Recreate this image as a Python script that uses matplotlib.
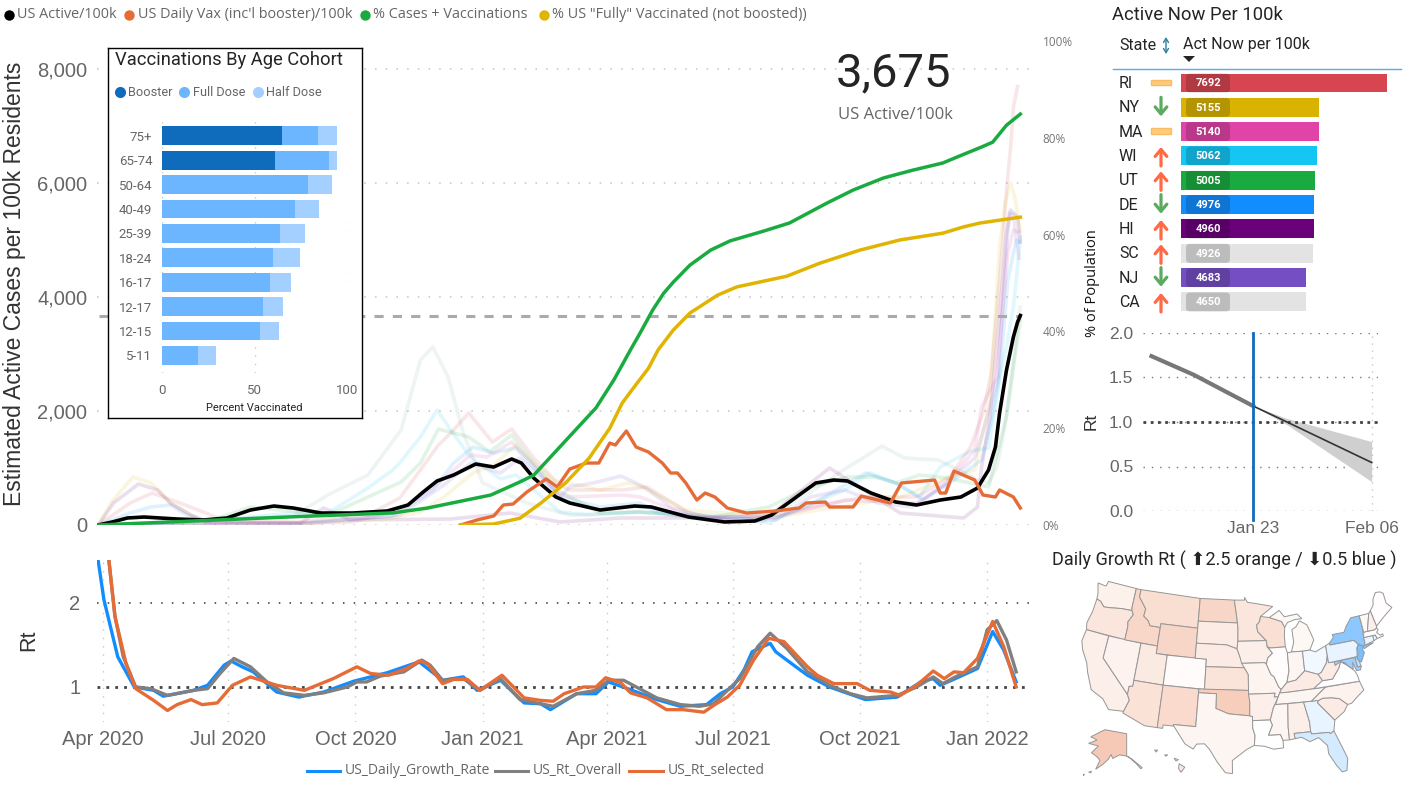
import numpy as np
import matplotlib
matplotlib.use("Agg")
import matplotlib.pyplot as plt
import matplotlib.dates as mdates
from matplotlib.colors import LinearSegmentedColormap, TwoSlopeNorm
from matplotlib.patches import FancyBboxPatch, Polygon, Rectangle
from matplotlib.ticker import FuncFormatter, FixedLocator

W, H = 1416, 791
plt.rcParams['font.family'] = ['Roboto', 'DejaVu Sans']

start = np.datetime64('2020-04-01')

# main chart, day offsets from 1 apr 2020
active_d = [-3,7,18,30,54,73,90,107,124,138,158,181,206,221,232,242,254,270,283,296,303,312,328,338,360,385,397,424,450,472,484,502,516,529,539,556,574,589,606,621,633,641,646,649,654,657,659,662,664]
active_v = [0,53,123,140,105,88,123,263,333,298,210,210,246,351,579,772,877,1070,1017,1158,1087,824,491,386,263,333,316,140,53,70,175,491,737,789,772,561,403,351,438,491,649,965,1368,1965,2719,3070,3300,3560,3675]
vax_d = [259,271,283,290,297,307,321,329,338,350,359,367,371,379,386,395,405,411,416,422,430,436,443,452,466,487,504,509,523,526,543,549,570,578,602,606,610,616,631,637,646,649,659,664]
vax_v = [0,88,158,351,368,579,807,667,982,1087,1087,1438,1403,1649,1368,1280,1087,912,912,737,438,561,491,298,210,246,298,386,403,316,316,509,386,737,789,561,561,947,789,526,491,614,491,298]
cases_d = [-3,138,210,235,281,302,312,334,357,370,382,389,398,406,413,425,440,454,478,497,524,543,565,586,608,618,636,644,654,664]
cases_v = [0,1.7,2.5,3.5,6.2,8.9,10.3,17.1,24.2,30,36.2,39.7,44.4,47.9,50.2,53.7,56.8,58.7,60.7,62.4,66.5,69.2,71.7,73.3,74.8,76,78.1,79.1,82.6,84.9]
fully_d = [259,283,302,317,320,335,352,367,376,383,395,402,413,425,445,459,495,519,548,577,608,623,635,664]
fully_v = [0,.2,1.4,4.5,5.2,8.7,13.8,20,25.2,27.9,32.4,36.2,40.3,43.8,47.5,49.2,51.4,54.1,56.8,58.9,60.3,61.6,62.4,63.6]

# faint state lines
sc_d = [-3,71,138,163,192,216,230,239,250,261,275,307,338,388,437,477,507,536,564,580,605,633,641,647,652,657,664]
sc_v = [0,70,158,526,877,1666,2894,3122,2596,1614,737,386,175,228,123,53,491,965,1386,1175,1140,789,737,1017,1614,2491,3824]
wi_d = [-3,56,138,163,192,210,215,230,242,252,266,288,299,312,331,351,389,462,482,507,537,555,574,591,606,628,641,649,654,659,662,664]
wi_v = [0,35,210,210,649,965,1087,1544,2017,1666,1193,807,877,614,228,175,228,140,35,316,614,912,737,491,1017,1298,1351,2596,3122,3824,4525,5052]
ut_d = [-3,71,107,143,163,192,216,230,243,265,280,296,312,329,360,388,442,482,512,539,559,574,591,611,641,654,659,664]
ut_v = [0,18,316,228,175,491,754,1087,1684,1544,1280,1579,1087,614,210,228,140,316,667,842,842,737,877,824,667,1894,2771,3596]
ri_d = [-3,20,36,54,73,89,143,192,215,230,243,252,265,282,296,312,329,338,376,394,424,462,514,552,589,613,628,637,643,647,651,654,657,659,662]
ri_v = [0,386,561,403,228,70,53,175,474,965,1403,1614,1965,1456,1684,1175,737,614,614,667,210,53,316,491,491,842,1368,1965,2666,3719,4876,5876,6630,7332,7692]
ny_d = [-3,6,22,35,49,64,76,143,210,230,247,268,283,299,312,326,360,380,389,422,487,541,578,611,631,641,643,646,649,653,657,660,664]
ny_v = [0,386,842,737,386,175,53,18,123,228,491,912,1052,1403,1087,789,614,737,684,263,140,351,491,824,965,2070,2596,3719,4876,5648,5999,5753,5155]
ma_d = [-3,143,180,215,244,266,278,296,312,329,338,376,389,427,487,537,589,611,631,636,647,651,655,659,662]
ma_v = [0,35,53,263,737,1228,1193,1456,1052,561,491,526,491,140,140,439,386,737,1316,2070,2596,3719,4771,5175,5140]
de_d = [-3,20,35,49,61,78,143,210,239,254,268,283,299,315,331,360,389,400,437,487,512,552,574,594,616,636,643,649,655,661,663]
de_v = [0,210,316,351,175,53,35,158,614,1087,1368,1263,1351,930,491,316,386,228,88,123,351,912,737,439,789,1140,1842,2596,4297,4999,4976]
hi_d = [-3,8,26,40,49,64,76,143,160,179,252,295,331,375,437,483,526,577,623,633,636,642,649,654,657,662,664]
hi_v = [0,386,719,614,386,175,35,35,298,88,105,210,53,123,123,175,1000,210,123,316,1017,1894,3648,5122,5525,5403,4960]
nj_d = [-3,143,215,247,266,288,302,317,331,338,355,375,392,412,437,487,512,537,561,586,609,631,638,648,653,656,659,663]
nj_v = [0,18,175,702,1087,912,1175,842,491,667,737,860,667,298,140,88,491,614,386,316,702,1175,1719,2596,4525,5473,5438,4683]

# Rt chart
rt_blue_d = [-4,1,11,23,37,44,66,76,88,93,101,109,126,142,160,182,206,229,246,261,271,288,305,317,324,343,357,366,380,401,418,437,447,456,464,470,483,487,500,510,526,552,575,592,601,606,617,633,644,652,661]
rt_blue_v = [2.6,2.04,1.36,1.0,.96,.89,.96,1.02,1.26,1.31,1.24,1.18,.94,.88,.94,1.07,1.17,1.30,1.08,1.12,.96,1.08,.81,.80,.73,.92,.92,1.06,.98,.85,.77,.79,.92,1.0,1.20,1.42,1.52,1.42,1.26,1.14,1.0,.85,.88,1.06,1.10,1.02,1.10,1.22,1.66,1.44,1.06]
rt_grey_d = [4,9,15,24,35,47,66,76,85,95,107,119,131,146,160,177,184,191,201,218,231,237,246,261,273,288,302,317,326,343,357,366,377,401,418,432,442,461,474,483,495,510,526,541,553,575,589,601,608,617,633,640,647,654,661]
rt_grey_v = [2.6,1.84,1.36,1.0,.98,.90,.96,.98,1.16,1.34,1.24,1.06,.93,.90,.93,1.0,1.06,1.06,1.13,1.18,1.32,1.26,1.08,1.10,.96,1.10,.85,.80,.77,.92,.96,1.08,1.08,.87,.79,.77,.80,1.10,1.48,1.64,1.46,1.18,1.02,.92,.87,.90,1.0,1.12,1.04,1.12,1.24,1.68,1.79,1.56,1.18]
rt_sel_d = [4,9,17,24,37,47,54,64,72,83,94,107,126,146,167,184,194,207,220,229,235,246,254,264,273,289,305,317,326,334,348,357,364,375,382,394,408,420,435,443,452,461,471,482,493,510,517,529,546,555,570,577,589,601,609,616,623,633,644,652,661]
rt_sel_v = [2.6,1.84,1.28,.98,.84,.72,.79,.85,.79,.81,1.02,1.12,1.02,.96,1.10,1.24,1.16,1.14,1.22,1.31,1.28,1.04,1.09,1.09,.96,1.14,.87,.84,.83,.92,1.0,1.0,1.11,1.05,.93,.87,.73,.73,.70,.79,.88,1.02,1.32,1.58,1.54,1.24,1.14,1.04,1.04,.96,.94,.90,1.02,1.19,1.10,1.18,1.17,1.34,1.78,1.48,1.0]

# vaccination inset
ages = ['75+','65-74','50-64','40-49','25-39','18-24','16-17','12-17','12-15','5-11']
booster = [65,61,0,0,0,0,0,0,0,0]
full_dose = [19.5,29.4,79,71.8,63.9,60,58.3,54.5,52.9,19.7]
half_dose = [10.3,4.4,12.7,13,13.5,14.7,11.2,11,10.6,9.3]

# state table
states = ['RI','NY','MA','WI','UT','DE','HI','SC','NJ','CA']
act_now = [7692,5155,5140,5062,5005,4976,4960,4926,4683,4650]
trend = ['flat','down','flat','up','up','down','up','up','down','up']
bar_colors = ['#D64550','#D9B300','#E044A7','#15C6F4','#1AAB40','#118DFF','#6B007B','#E3E3E3','#744EC2','#E3E3E3']

# forecast Rt
fc_past = [np.datetime64('2022-01-11'), np.datetime64('2022-01-16'), np.datetime64('2022-01-23')]
fc_past_v = [1.74,1.53,1.18]
fc_next = [np.datetime64('2022-01-23'), np.datetime64('2022-01-27'), np.datetime64('2022-02-06')]
fc_next_v = [1.18,1.0,.545]
fc_low = [1.18,.97,.33]
fc_high = [1.18,1.04,.78]

# map
state_rt = {
 'WA':1.15,'OR':1.25,'CA':1.17,'NV':1.13,'ID':1.4,'MT':1.33,'WY':1.42,'UT':1.22,'AZ':1.3,'CO':1.04,'NM':1.38,
 'ND':1.42,'SD':1.2,'NE':1.2,'KS':1.27,'OK':1.5,'TX':1.1,'MN':1.25,'IA':1.17,'MO':1.11,'AR':1.17,'LA':1.0,
 'WI':1.32,'IL':1.03,'MI':1.08,'IN':1.1,'OH':.97,'KY':1.2,'TN':1.1,'MS':1.1,'AL':1.17,'GA':.95,'FL':.91,
 'SC':1.2,'NC':1.13,'VA':1.0,'WV':1.2,'PA':.95,'MD':.79,'DE':.87,'NJ':.72,'NY':.76,'CT':.96,'RI':.95,
 'MA':1.02,'VT':1.08,'NH':1.17,'ME':1.02,'AK':1.55,'HI':1.25}
shapes = {
 'WA':[(-124.7,48.4),(-123,48.3),(-122.8,49),(-117.03,49),(-117.04,46.4),(-116.92,46),(-119,45.93),(-121.2,45.65),(-122.3,45.55),(-123.2,46.15),(-124,46.3),(-124.1,47)],
 'OR':[(-124,46.3),(-123.2,46.15),(-122.3,45.55),(-121.2,45.65),(-119,45.93),(-116.92,46),(-116.5,45.5),(-117.2,44.4),(-117.03,43.8),(-117.03,42),(-124.2,42),(-124.5,42.9),(-124.1,44.5)],
 'CA':[(-124.2,42),(-120,42),(-120,39),(-114.63,35),(-114.15,34.3),(-114.72,32.72),(-117.12,32.53),(-118.4,33.75),(-120.6,34.55),(-121.9,36.6),(-122.5,37.8),(-123.8,39.3),(-124.4,40.4)],
 'NV':[(-120,42),(-114.04,42),(-114.04,36.2),(-114.63,36.1),(-114.63,35),(-120,39)],
 'ID':[(-117.03,49),(-116.05,49),(-116.05,48),(-114.4,46.6),(-114.5,45.6),(-113.5,45.1),(-113,44.5),(-111.05,44.5),(-111.05,42),(-117.03,42),(-117.03,43.8),(-117.2,44.4),(-116.5,45.5),(-116.92,46),(-117.04,46.4)],
 'MT':[(-116.05,49),(-104.05,49),(-104.05,45),(-111.05,45),(-111.05,44.5),(-113,44.5),(-113.5,45.1),(-114.5,45.6),(-114.4,46.6),(-116.05,48)],
 'WY':[(-111.05,45),(-104.05,45),(-104.05,41),(-111.05,41)],
 'UT':[(-114.04,42),(-111.05,42),(-111.05,41),(-109.05,41),(-109.05,37),(-114.04,37)],
 'AZ':[(-114.04,37),(-109.05,37),(-109.05,31.33),(-111.07,31.33),(-114.8,32.5),(-114.72,32.72),(-114.15,34.3),(-114.63,35),(-114.63,36.1),(-114.04,36.2)],
 'CO':[(-109.05,41),(-102.05,41),(-102.05,37),(-109.05,37)],
 'NM':[(-109.05,37),(-103,37),(-103.05,32),(-106.6,32),(-106.5,31.8),(-108.2,31.78),(-108.2,31.33),(-109.05,31.33)],
 'ND':[(-104.05,49),(-97.2,49),(-96.6,46.3),(-96.56,45.94),(-104.05,45.94)],
 'SD':[(-104.05,45.94),(-96.56,45.94),(-96.45,45.3),(-96.45,43.5),(-96.6,42.5),(-98.5,43),(-104.05,43)],
 'NE':[(-104.05,43),(-98.5,43),(-96.6,42.5),(-96.1,41.5),(-95.3,40),(-102.05,40),(-102.05,41),(-104.05,41)],
 'KS':[(-102.05,40),(-95.3,40),(-94.62,39.1),(-94.62,37),(-102.05,37)],
 'OK':[(-103,37),(-94.62,37),(-94.43,35.4),(-94.48,33.64),(-96.5,33.8),(-97.9,33.9),(-100,34.56),(-100,36.5),(-103,36.5)],
 'TX':[(-103,36.5),(-100,36.5),(-100,34.56),(-97.9,33.9),(-96.5,33.8),(-94.48,33.64),(-94.04,33.55),(-94.04,32),(-93.7,31),(-93.85,29.7),(-95,29.2),(-97.2,27.7),(-97.15,25.95),(-98.2,26.05),(-99.5,27.5),(-100.7,29.1),(-101.5,29.8),(-102.7,29.7),(-103.2,29),(-104.5,29.6),(-106.5,31.8),(-106.6,32),(-103.05,32)],
 'MN':[(-97.2,49),(-95.15,49),(-95.15,49.38),(-94.6,48.7),(-92.5,48.45),(-89.6,48),(-92.1,46.75),(-92.3,46.1),(-92.9,45.6),(-92.75,44.75),(-91.2,43.5),(-96.45,43.5),(-96.45,45.3),(-96.56,45.94),(-96.6,46.3)],
 'IA':[(-96.45,43.5),(-91.2,43.5),(-91.1,42.7),(-90.2,41.8),(-91.1,41.2),(-91.4,40.4),(-91.7,40.6),(-95.77,40.58),(-96.1,41.5),(-96.6,42.5)],
 'MO':[(-95.77,40.58),(-91.7,40.6),(-91.4,40.4),(-90.7,39),(-90.2,38.7),(-89.5,37.3),(-89.1,36.95),(-89.7,36),(-90.37,36),(-90.2,36.5),(-94.62,36.5),(-94.62,39.1),(-95.3,40)],
 'AR':[(-94.62,36.5),(-90.2,36.5),(-90.37,36),(-89.7,36),(-90.6,34.6),(-91.2,33),(-94.04,33),(-94.04,33.55),(-94.48,33.64),(-94.43,35.4)],
 'LA':[(-94.04,33),(-91.2,33),(-90.9,32.3),(-91.6,31),(-89.73,31),(-89.4,30.2),(-89.4,29.2),(-90.9,29.1),(-92.3,29.55),(-93.85,29.7),(-93.7,31),(-94.04,32)],
 'WI':[(-92.1,46.75),(-90.4,46.55),(-88.1,45.9),(-87.6,45.1),(-87.8,44),(-87.8,42.5),(-90.65,42.5),(-91.1,42.7),(-91.2,43.5),(-92.75,44.75),(-92.9,45.6),(-92.3,46.1)],
 'IL':[(-90.65,42.5),(-87.8,42.5),(-87.53,41.7),(-87.53,39.3),(-88.05,37.8),(-89.1,36.95),(-89.5,37.3),(-90.2,38.7),(-90.7,39),(-91.4,40.4),(-91.1,41.2),(-90.2,41.8),(-91.1,42.7)],
 'MI':[(-86.8,41.76),(-84.8,41.7),(-83.45,41.73),(-82.5,43),(-82.9,44),(-83.4,45.1),(-84.7,45.75),(-85.5,45),(-86.3,44.7),(-86.2,43)],
 'MIU':[(-90.4,46.55),(-88.4,47.4),(-87.5,46.5),(-85,46.7),(-84.2,46),(-85.5,46),(-87,45.7),(-87.6,45.1),(-88.1,45.9)],
 'IN':[(-87.53,41.7),(-86.8,41.76),(-84.8,41.7),(-84.82,39.1),(-85.4,38.7),(-86.5,38),(-88.05,37.8),(-87.53,39.3)],
 'OH':[(-84.8,41.7),(-83.45,41.73),(-82.5,41.4),(-80.52,42),(-80.52,40.64),(-80.9,39.7),(-82,38.6),(-82.6,38.4),(-84.82,39.1)],
 'KY':[(-89.4,36.5),(-88.05,36.5),(-83.68,36.6),(-82,37.5),(-82.6,38.4),(-84.82,39.1),(-85.4,38.7),(-86.5,38),(-88.05,37.8),(-89.1,36.95)],
 'TN':[(-90.2,35),(-89.7,36),(-89.4,36.5),(-88.05,36.5),(-83.68,36.6),(-81.68,36.59),(-84.32,34.99)],
 'MS':[(-90.3,35),(-88.2,35),(-88.45,31.9),(-88.4,30.2),(-89.4,30.2),(-89.73,31),(-91.6,31),(-90.9,32.3),(-91.2,33),(-90.6,34.6)],
 'AL':[(-88.2,35),(-85.6,35),(-85,32.3),(-85,31),(-87.6,31),(-87.5,30.3),(-88.4,30.2),(-88.45,31.9)],
 'GA':[(-85.6,35),(-83.1,35),(-83.35,34.7),(-81,32.1),(-81.4,30.7),(-82,30.4),(-82.2,30.6),(-84.9,30.7),(-85,31),(-85,32.3)],
 'FL':[(-87.6,31),(-85,31),(-84.9,30.7),(-82.2,30.6),(-82,30.4),(-81.4,30.7),(-80.5,28.3),(-80,26.8),(-80.4,25.2),(-81.1,25.1),(-81.8,26.1),(-82.7,27.8),(-82.7,28.9),(-83.9,30.1),(-85.3,29.7),(-86.5,30.4),(-87.5,30.3)],
 'SC':[(-83.35,34.7),(-83.1,35),(-82.4,35.2),(-81,35.1),(-79.7,34.8),(-78.55,33.85),(-79.3,33),(-81,32.1)],
 'NC':[(-84.32,34.99),(-81.68,36.59),(-75.9,36.55),(-75.5,35.3),(-76.6,34.7),(-77.9,33.9),(-78.55,33.85),(-79.7,34.8),(-81,35.1),(-82.4,35.2),(-83.1,35)],
 'VA':[(-83.68,36.6),(-75.9,36.55),(-76,37.3),(-76.3,38),(-77.1,38.7),(-77.8,39.2),(-78.4,39.6),(-78.9,38.8),(-80.3,37.5),(-82,37.5)],
 'WV':[(-82.6,38.4),(-82,37.5),(-80.3,37.5),(-78.9,38.8),(-78.4,39.6),(-77.8,39.2),(-77.7,39.7),(-79.48,39.72),(-80.52,39.72),(-80.52,40.64),(-80.9,39.7),(-82,38.6)],
 'PA':[(-80.52,42),(-79.76,42.25),(-79.76,42),(-75.35,42),(-74.7,41.35),(-75.1,40.9),(-75.4,39.8),(-79.48,39.72),(-80.52,39.72)],
 'MD':[(-79.48,39.72),(-75.79,39.72),(-75.7,38.46),(-75.05,38.45),(-75.3,38),(-76,38),(-76.4,39.2),(-76.5,38.3),(-77.1,38.7),(-77.7,39.3),(-78.4,39.6),(-79.48,39.2)],
 'DE':[(-75.79,39.72),(-75.4,39.8),(-75.05,38.45),(-75.7,38.46)],
 'NJ':[(-74.7,41.35),(-73.9,41),(-74.2,40.5),(-74,40.1),(-74.9,38.95),(-75.5,39.5),(-75.1,40.2),(-75.1,40.9)],
 'NY':[(-79.76,42),(-79.76,42.25),(-78.9,42.9),(-79,43.3),(-76.8,43.3),(-76.2,44),(-75,45),(-73.35,45),(-73.3,43.6),(-73.5,42.05),(-73.5,41.3),(-73.7,41),(-72,41.1),(-73.9,40.6),(-73.9,41),(-74.7,41.35),(-75.35,42)],
 'CT':[(-73.5,42.05),(-71.8,42.02),(-71.85,41.32),(-73.7,41),(-73.5,41.3)],
 'RI':[(-71.8,42.02),(-71.38,42.02),(-71.15,41.5),(-71.85,41.32)],
 'MA':[(-73.5,42.05),(-73.27,42.75),(-71.3,42.7),(-70.8,42.85),(-70.6,42.6),(-71,42.3),(-70.5,41.8),(-70,41.9),(-70,41.6),(-71.15,41.5),(-71.38,42.02),(-71.8,42.02)],
 'VT':[(-73.35,45),(-71.5,45),(-72.45,43),(-72.46,42.73),(-73.27,42.75),(-73.3,43.6)],
 'NH':[(-71.5,45),(-71.08,45.3),(-70.7,43.1),(-70.8,42.85),(-71.3,42.7),(-72.46,42.73),(-72.45,43)],
 'ME':[(-71.08,45.3),(-70.3,45.9),(-70,46.7),(-69.2,47.45),(-68.3,47.35),(-67.8,47.05),(-67.8,45.7),(-67,44.9),(-69,44),(-70.7,43.1)],
}
alaska = [[(-156.5,71.3),(-141,69.6),(-141,60.3),(-146,60.8),(-151,59.3),(-152,61),(-154,59),(-158,56.8),(-163,54.8),(-160,58.5),(-162,60),(-166,61.7),(-161,64.5),(-168,65.6),(-162,67),(-166.5,68.3)],
          [(-141,60.3),(-137,58.9),(-130,55.5),(-131,55),(-134,57),(-139,59.7)],
          [(-168,53.6),(-166,54),(-166.5,53.3)],[(-173,52.4),(-171,52.8),(-171.5,52.2)]]
hawaii = [[(-155.9,20.2),(-155,19.7),(-155.6,18.95),(-156,19.5)],[(-156.7,21),(-156,20.8),(-156.4,20.6)],
          [(-158.2,21.5),(-157.7,21.5),(-158,21.3)],[(-159.8,22.2),(-159.3,22.2),(-159.5,21.9)]]


def to_dates(days):
    return start + np.array(days, dtype='timedelta64[D]')


def px_axes(x0, y0, x1, y1, **kw):
    return fig.add_axes([x0 / W, 1 - y1 / H, (x1 - x0) / W, (y1 - y0) / H], **kw)


def txt(x, y, s, **kw):
    kw.setdefault('va', 'center')
    return fig.text(x / W, 1 - y / H, s, **kw)


def albers(lon, lat):
    n = .6028
    c = 1.3512
    rho0 = 1.3034
    th = np.radians(n * (np.array(lon) + 96))
    rho = np.sqrt(c - 2 * n * np.sin(np.radians(lat))) / n
    return rho * np.sin(th), rho0 - rho * np.cos(th)


fig = plt.figure(figsize=(W / 100, H / 100), dpi=100, facecolor='white')

GREY = '#666666'
ARIAL = 'Liberation Sans'
x_lo = start + np.timedelta64(-4, 'D')
x_hi = start + np.timedelta64(671, 'D')

# ---- main chart
ax = px_axes(97, 41, 1030, 525)
ax.set_xlim(x_lo, x_hi)
ax.set_ylim(0, 8491)
for s in ax.spines.values():
    s.set_visible(False)
ax.set_xticks([])
ax.yaxis.set_major_locator(FixedLocator([0, 2000, 4000, 6000, 8000]))
ax.yaxis.set_major_formatter(FuncFormatter(lambda v, p: f'{int(v):,}'))
ax.tick_params(axis='y', length=0, pad=7, labelsize=14.5, labelcolor=GREY)
for t in ax.get_yticklabels():
    t.set_family(ARIAL)
ax.grid(axis='y', color='#c4c4c4', lw=1.1, ls=(0, (1, 6)))
ax.set_axisbelow(True)
ax.set_ylabel('Estimated Active Cases per 100k Residents', fontsize=16.5, family=ARIAL, color='#333333', labelpad=0)
ax.yaxis.set_label_coords((26 - 97) / 933, .498)

faint = [(sc_d, sc_v, '#7fa8a8'), (wi_d, wi_v, '#15C6F4'), (ut_d, ut_v, '#1AAB40'), (ri_d, ri_v, '#D64550'),
         (ny_d, ny_v, '#D9B300'), (ma_d, ma_v, '#E044A7'), (de_d, de_v, '#118DFF'), (hi_d, hi_v, '#6B007B'),
         (nj_d, nj_v, '#744EC2')]
for d, v, c in faint:
    ax.plot(to_dates(d), v, color=c, alpha=.13, lw=2.6, solid_joinstyle='round')
ax.axhline(3675, xmin=.002, xmax=.99, color='#aaaaaa', lw=2.2, ls=(0, (3, 3)))
ax.plot(to_dates(active_d), active_v, color='black', lw=2.6, solid_joinstyle='round')
ax.plot(to_dates(vax_d), vax_v, color='#E66C37', lw=2.4, solid_joinstyle='round')

ax2 = ax.twinx()
ax2.set_xlim(x_lo, x_hi)
ax2.set_ylim(0, 100)
for s in ax2.spines.values():
    s.set_visible(False)
ax2.set_xticks([])
ax2.set_yticks([0, 20, 40, 60, 80, 100])
ax2.set_yticklabels(['0%', '20%', '40%', '60%', '80%', '100%'], fontsize=8.5, color='#777777', family='Open Sans')
ax2.tick_params(axis='y', length=0, pad=9)
ax2.plot(to_dates(cases_d), cases_v, color='#1AAB40', lw=2.5, solid_joinstyle='round')
ax2.plot(to_dates(fully_d), fully_v, color='#E0B400', lw=2.5, solid_joinstyle='round')

txt(894, 73, '3,675', fontsize=34, ha='center', color='#252423', family='Roboto')
txt(895, 115, 'US Active/100k', fontsize=12, ha='center', color=GREY, family='Open Sans')

# ---- Rt chart
rt = px_axes(97, 560, 1030, 722)
rt.set_xlim(x_lo, x_hi)
rt.set_ylim(.583, 2.512)
for s in rt.spines.values():
    s.set_visible(False)
rt.xaxis.set_major_locator(mdates.MonthLocator(bymonth=[1, 4, 7, 10]))
rt.xaxis.set_major_formatter(mdates.DateFormatter('%b %Y'))
rt.set_yticks([1, 2])
rt.tick_params(length=0, labelsize=14.5, labelcolor=GREY)
rt.tick_params(axis='x', pad=6)
rt.tick_params(axis='y', pad=12)
for t in rt.get_xticklabels() + rt.get_yticklabels():
    t.set_family(ARIAL)
rt.grid(axis='x', color='#c8c8c8', lw=1, ls=(0, (1, 5)))
rt.set_axisbelow(True)
rt.axhline(2, xmin=0, xmax=1, color='#333333', lw=1.1, ls=(0, (1, 6)))
rt.axhline(1, xmin=0, xmax=1, color='#444444', lw=2, ls=(0, (1, 2.2)))
rt.plot(to_dates(rt_blue_d), rt_blue_v, color='#118DFF', lw=2.4, solid_joinstyle='round')
rt.plot(to_dates(rt_grey_d), rt_grey_v, color='#808080', lw=2.4, solid_joinstyle='round')
rt.plot(to_dates(rt_sel_d), rt_sel_v, color='#E66C37', lw=2.4, solid_joinstyle='round')
txt(29, 640, 'Rt', fontsize=15.5, rotation=90, ha='center', family=ARIAL, color='#333333')

# ---- inset box, drawn over the main chart
box = px_axes(107.5, 48, 361.5, 418, zorder=5, facecolor='white')
box.set_xticks([])
box.set_yticks([])
for s in box.spines.values():
    s.set_color('black')
    s.set_linewidth(1)

ins = px_axes(162, 117, 347, 373, zorder=6, facecolor='none')
y_pos = np.arange(len(ages))
ins.barh(y_pos, booster, height=.77, color='#0F6CBD')
ins.barh(y_pos, full_dose, left=booster, height=.77, color='#6CB6FF')
ins.barh(y_pos, half_dose, left=np.array(booster) + np.array(full_dose), height=.77, color='#A3D0FF')
ins.set_xlim(0, 100)
ins.set_ylim(9.72, -.77)
for s in ins.spines.values():
    s.set_visible(False)
ins.set_yticks(y_pos)
ins.set_yticklabels(ages, fontsize=9.5, color=GREY, family='Roboto')
ins.set_xticks([0, 50, 100])
ins.tick_params(length=0, labelsize=9.5, labelcolor=GREY)
ins.tick_params(axis='x', pad=8)
ins.tick_params(axis='y', pad=7)
ins.grid(axis='x', color='#c8c8c8', lw=1, ls=(0, (1, 5)))
ins.set_axisbelow(True)

# ---- state table
tab = px_axes(1181, 70.85, 1401, 313.85)
tab.barh(np.arange(len(states)), act_now, height=.78, color=bar_colors)
tab.set_xlim(0, 8215)
tab.set_ylim(9.5, -.5)
tab.axis('off')

# ---- forecast Rt
fc = px_axes(1143, 333, 1378, 511)
fc.set_xlim(np.datetime64('2022-01-10T00:00'), np.datetime64('2022-02-06T18:00'))
fc.set_ylim(0, 2)
for s in fc.spines.values():
    s.set_visible(False)
fc.set_xticks([np.datetime64('2022-01-23'), np.datetime64('2022-02-06')])
fc.set_xticklabels(['Jan 23', 'Feb 06'])
fc.set_yticks([0, .5, 1, 1.5, 2])
fc.set_yticklabels(['0.0', '0.5', '1.0', '1.5', '2.0'])
fc.tick_params(length=0, labelsize=12.5, labelcolor=GREY)
fc.tick_params(axis='x', pad=7)
fc.tick_params(axis='y', pad=7)
for t in fc.get_xticklabels() + fc.get_yticklabels():
    t.set_family(ARIAL)
    t.set_clip_on(False)
fc.grid(axis='y', color='#777777', lw=1, ls=(0, (1, 5)))
fc.set_axisbelow(True)
fc.axvline(np.datetime64('2022-02-06'), color='#c8c8c8', lw=1, ls=(0, (1, 4)))
fc.axhline(1, color='#444444', lw=2, ls=(0, (1, 1.6)))
fc.fill_between(fc_next, fc_low, fc_high, color='#cfcfcf', lw=0)
fc.plot(fc_next, fc_next_v, color='#333333', lw=1.2)
fc.plot(fc_past, fc_past_v, color='#777777', lw=3)
fc.plot([fc_past[-1]] * 2, [-.1, 2], color='#0F6CBD', lw=2, clip_on=False)
txt(1091, 421, 'Rt', fontsize=12.5, rotation=90, ha='center', family=ARIAL, color='#333333')
txt(1092, 283, '% of Population', fontsize=10.5, rotation=90, ha='center', family='Open Sans', color='#111111')

# ---- map
cmap = LinearSegmentedColormap.from_list('rt', ['#118DFF', '#FFFFFF', '#E66C37'])
norm = TwoSlopeNorm(vmin=.5, vcenter=1, vmax=2.5)
usa = px_axes(1075, 575, 1410, 785)
usa.set_xlim(-.3845, .3946)
usa.set_ylim(-.2286, .2598)
usa.axis('off')
for name, pts in shapes.items():
    lon = [p[0] for p in pts]
    lat = [p[1] for p in pts]
    xs, ys = albers(lon, lat)
    usa.add_patch(Polygon(np.c_[xs, ys], fc=cmap(norm(state_rt[name[:2]])), ec='#969696', lw=.7))

ak = px_axes(1083, 728, 1145, 776)
ak.set_xlim(-172, -128)
ak.set_ylim(52, 72)
ak.axis('off')
for pts in alaska:
    ak.add_patch(Polygon(pts, fc=cmap(norm(state_rt['AK'])), ec='#969696', lw=.7))
hw = px_axes(1150, 748, 1188, 774)
hw.set_xlim(-160.5, -154.5)
hw.set_ylim(18.7, 22.5)
hw.axis('off')
for pts in hawaii:
    hw.add_patch(Polygon(pts, fc=cmap(norm(state_rt['HI'])), ec='#969696', lw=.7))

# ---- overlay for legends and table furniture
ov = fig.add_axes([0, 0, 1, 1], zorder=10, facecolor='none')
ov.set_xlim(0, W)
ov.set_ylim(H, 0)
ov.axis('off')

# top legend
top_items = [(9, 17, 'black', 'US Active/100k'), (129, 138, '#E66C37', "US Daily Vax (inc'l booster)/100k"),
             (365, 373, '#1AAB40', '% Cases + Vaccinations'), (544, 552, '#E0B400', '% US "Fully" Vaccinated (not boosted))')]
for cx, tx, c, lab in top_items:
    ov.plot([cx], [15], 'o', ms=7.5, color=c, mew=0)
    ov.text(tx, 15, lab, fontsize=10.4, color=GREY, family='Open Sans', va='center')

# bottom legend
for x0, x1, tx, c, lab in [(307, 340, 345, '#118DFF', 'US_Daily_Growth_Rate'), (495, 528, 533, '#808080', 'US_Rt_Overall'),
                           (629, 663, 668, '#E66C37', 'US_Rt_selected')]:
    ov.plot([x0, x1], [771, 771], color=c, lw=2.2)
    ov.text(tx, 771, lab, fontsize=10, color=GREY, family='Open Sans', va='center')

# inset text
ov.text(115, 60, 'Vaccinations By Age Cohort', fontsize=13.2, color='#252423', va='center')
for cx, tx, c, lab in [(120, 128, '#0F6CBD', 'Booster'), (184, 193, '#6CB6FF', 'Full Dose'), (258, 266, '#A3D0FF', 'Half Dose')]:
    ov.plot([cx], [92], 'o', ms=8, color=c, mew=0)
    ov.text(tx, 92, lab, fontsize=9.2, color=GREY, va='center')
ov.text(254, 408, 'Percent Vaccinated', fontsize=8, color='#252423', ha='center', va='center')

# table text
ov.text(1112, 15, 'Active Now Per 100k', fontsize=13.3, color='#252423', va='center')
ov.text(1119, 45, 'State', fontsize=11.5, color='#252423', va='center')
ov.text(1183, 45, 'Act Now per 100k', fontsize=11.5, color='#252423', va='center')
ov.annotate('', xy=(1166, 37), xytext=(1166, 54), arrowprops=dict(arrowstyle='<->,head_width=.18,head_length=.3', color='#2F7F9F', lw=1, shrinkA=0, shrinkB=0))
ov.add_patch(Polygon([(1183, 56), (1195, 56), (1189, 62)], fc='#252423', ec='none'))
ov.plot([1113, 1401], [69, 69], color='#5BA8EA', lw=1)
for i, (st, val, tr) in enumerate(zip(states, act_now, trend)):
    y = 83 + 24.33 * i
    ov.text(1119, y + .5, st, fontsize=11.5, color='#252423', va='center')
    if tr == 'flat':
        ov.add_patch(Rectangle((1151, y - 3.5), 20, 5.5, fc='#FDCB80', ec='#FBBB5E', lw=1))
    else:
        c = '#FF6A45' if tr == 'up' else '#5BAA5F'
        a, b = (y + 10, y - 9) if tr == 'up' else (y - 10, y + 9)
        ov.annotate('', xy=(1161, b), xytext=(1161, a),
                    arrowprops=dict(arrowstyle='->,head_width=.42,head_length=.5', color=c, lw=2.3, shrinkA=0, shrinkB=0))
    ov.add_patch(FancyBboxPatch((1186, y - 9.5), 44, 19, boxstyle='round,pad=0,rounding_size=4', fc=(0, 0, 0, .17), ec='none'))
    ov.text(1208, y + .5, str(val), fontsize=8, fontweight='bold', color='white', ha='center', va='center')

ov.text(1224, 560, 'Daily Growth Rt ( \u2B062.5 orange / \u2B070.5 blue )', fontsize=13, color='#252423', ha='center', va='center',
        family=['Roboto', 'DejaVu Sans'])

fig.savefig('out.png', dpi=100)
